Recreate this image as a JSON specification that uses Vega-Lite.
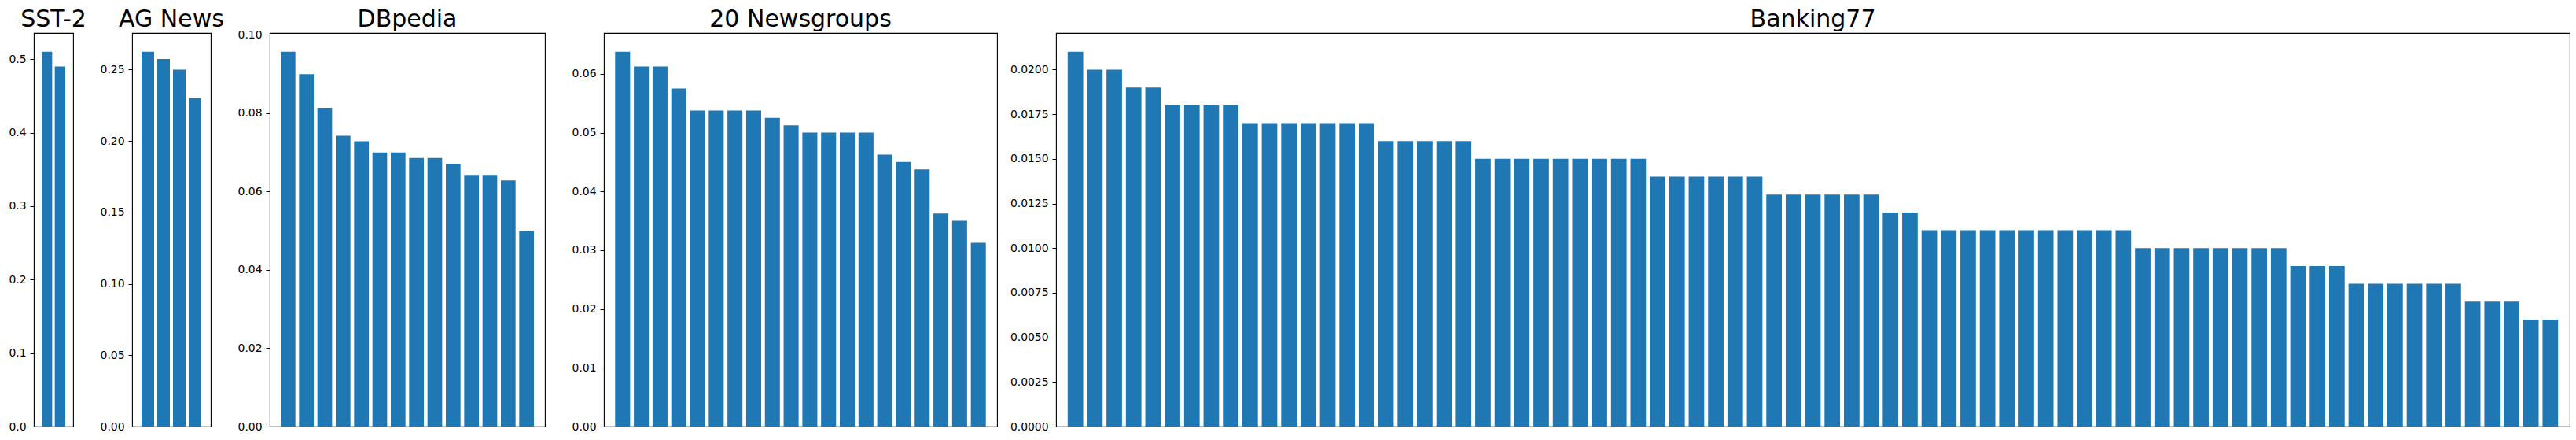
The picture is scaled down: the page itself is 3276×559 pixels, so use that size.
{
  "$schema": "https://vega.github.io/schema/vega-lite/v6.json",
  "background": "white",
  "padding": {"left": 10, "top": 9, "right": 9, "bottom": 10},
  "spacing": 75,
  "bounds": "flush",
  "config": {
    "view": {"stroke": "black", "strokeWidth": 1.1},
    "axis": {"labelFont": "DejaVu Sans", "labelFontSize": 13.9, "labelColor": "black", "tickColor": "black", "tickSize": 5, "tickWidth": 1, "labelPadding": 5, "grid": false, "domain": false, "title": null},
    "title": {"font": "DejaVu Sans", "fontSize": 30, "fontWeight": "normal", "color": "black", "offset": 2, "anchor": "middle", "frame": "group", "baseline": "alphabetic"},
    "bar": {"color": "#1f77b4"}
  },
  "datasets": {
    "sst2": [{"rank": 1, "share": 0.51}, {"rank": 2, "share": 0.49}],
    "ag": [{"rank": 1, "share": 0.2625}, {"rank": 2, "share": 0.2575}, {"rank": 3, "share": 0.25}, {"rank": 4, "share": 0.23}],
    "dbp": [
      {"rank": 1, "share": 0.095714}, {"rank": 2, "share": 0.09}, {"rank": 3, "share": 0.081429}, {"rank": 4, "share": 0.074286},
      {"rank": 5, "share": 0.072857}, {"rank": 6, "share": 0.07}, {"rank": 7, "share": 0.07}, {"rank": 8, "share": 0.068571},
      {"rank": 9, "share": 0.068571}, {"rank": 10, "share": 0.067143}, {"rank": 11, "share": 0.064286}, {"rank": 12, "share": 0.064286},
      {"rank": 13, "share": 0.062857}, {"rank": 14, "share": 0.05}
    ],
    "ng": [
      {"rank": 1, "share": 0.06375}, {"rank": 2, "share": 0.06125}, {"rank": 3, "share": 0.06125}, {"rank": 4, "share": 0.0575},
      {"rank": 5, "share": 0.05375}, {"rank": 6, "share": 0.05375}, {"rank": 7, "share": 0.05375}, {"rank": 8, "share": 0.05375},
      {"rank": 9, "share": 0.0525}, {"rank": 10, "share": 0.05125}, {"rank": 11, "share": 0.05}, {"rank": 12, "share": 0.05},
      {"rank": 13, "share": 0.05}, {"rank": 14, "share": 0.05}, {"rank": 15, "share": 0.04625}, {"rank": 16, "share": 0.045},
      {"rank": 17, "share": 0.04375}, {"rank": 18, "share": 0.03625}, {"rank": 19, "share": 0.035}, {"rank": 20, "share": 0.03125}
    ],
    "bank": [
      {"rank": 1, "share": 0.021},
      {"rank": 2, "share": 0.020}, {"rank": 3, "share": 0.020},
      {"rank": 4, "share": 0.019}, {"rank": 5, "share": 0.019},
      {"rank": 6, "share": 0.018}, {"rank": 7, "share": 0.018}, {"rank": 8, "share": 0.018}, {"rank": 9, "share": 0.018},
      {"rank": 10, "share": 0.017}, {"rank": 11, "share": 0.017}, {"rank": 12, "share": 0.017}, {"rank": 13, "share": 0.017}, {"rank": 14, "share": 0.017}, {"rank": 15, "share": 0.017}, {"rank": 16, "share": 0.017},
      {"rank": 17, "share": 0.016}, {"rank": 18, "share": 0.016}, {"rank": 19, "share": 0.016}, {"rank": 20, "share": 0.016}, {"rank": 21, "share": 0.016},
      {"rank": 22, "share": 0.015}, {"rank": 23, "share": 0.015}, {"rank": 24, "share": 0.015}, {"rank": 25, "share": 0.015}, {"rank": 26, "share": 0.015}, {"rank": 27, "share": 0.015}, {"rank": 28, "share": 0.015}, {"rank": 29, "share": 0.015}, {"rank": 30, "share": 0.015},
      {"rank": 31, "share": 0.014}, {"rank": 32, "share": 0.014}, {"rank": 33, "share": 0.014}, {"rank": 34, "share": 0.014}, {"rank": 35, "share": 0.014}, {"rank": 36, "share": 0.014},
      {"rank": 37, "share": 0.013}, {"rank": 38, "share": 0.013}, {"rank": 39, "share": 0.013}, {"rank": 40, "share": 0.013}, {"rank": 41, "share": 0.013}, {"rank": 42, "share": 0.013},
      {"rank": 43, "share": 0.012}, {"rank": 44, "share": 0.012},
      {"rank": 45, "share": 0.011}, {"rank": 46, "share": 0.011}, {"rank": 47, "share": 0.011}, {"rank": 48, "share": 0.011}, {"rank": 49, "share": 0.011}, {"rank": 50, "share": 0.011}, {"rank": 51, "share": 0.011}, {"rank": 52, "share": 0.011}, {"rank": 53, "share": 0.011}, {"rank": 54, "share": 0.011}, {"rank": 55, "share": 0.011},
      {"rank": 56, "share": 0.010}, {"rank": 57, "share": 0.010}, {"rank": 58, "share": 0.010}, {"rank": 59, "share": 0.010}, {"rank": 60, "share": 0.010}, {"rank": 61, "share": 0.010}, {"rank": 62, "share": 0.010}, {"rank": 63, "share": 0.010},
      {"rank": 64, "share": 0.009}, {"rank": 65, "share": 0.009}, {"rank": 66, "share": 0.009},
      {"rank": 67, "share": 0.008}, {"rank": 68, "share": 0.008}, {"rank": 69, "share": 0.008}, {"rank": 70, "share": 0.008}, {"rank": 71, "share": 0.008}, {"rank": 72, "share": 0.008},
      {"rank": 73, "share": 0.007}, {"rank": 74, "share": 0.007}, {"rank": 75, "share": 0.007},
      {"rank": 76, "share": 0.006}, {"rank": 77, "share": 0.006}
    ]
  },
  "hconcat": [
    {
      "title": "SST-2", "width": 50, "height": 500,
      "data": {"name": "sst2"},
      "mark": {"type": "bar"},
      "encoding": {
        "x": {"field": "rank", "type": "ordinal", "scale": {"paddingInner": 0.2, "paddingOuter": 0.6}, "axis": null},
        "y": {"field": "share", "type": "quantitative", "scale": {"domain": [0, 0.5355], "nice": false}, "axis": {"values": [0, 0.1, 0.2, 0.3, 0.4, 0.5], "format": ".1f"}}
      }
    },
    {
      "title": "AG News", "width": 100, "height": 500,
      "data": {"name": "ag"},
      "mark": {"type": "bar"},
      "encoding": {
        "x": {"field": "rank", "type": "ordinal", "scale": {"paddingInner": 0.2, "paddingOuter": 0.6}, "axis": null},
        "y": {"field": "share", "type": "quantitative", "scale": {"domain": [0, 0.275625], "nice": false}, "axis": {"values": [0, 0.05, 0.1, 0.15, 0.2, 0.25], "format": ".2f"}}
      }
    },
    {
      "title": {"text": "DBpedia", "offset": -2.5}, "width": 350, "height": 500,
      "data": {"name": "dbp"},
      "mark": {"type": "bar"},
      "encoding": {
        "x": {"field": "rank", "type": "ordinal", "scale": {"paddingInner": 0.2, "paddingOuter": 0.6}, "axis": null},
        "y": {"field": "share", "type": "quantitative", "scale": {"domain": [0, 0.1005], "nice": false}, "axis": {"values": [0, 0.02, 0.04, 0.06, 0.08, 0.1], "format": ".2f"}}
      }
    },
    {
      "title": "20 Newsgroups", "width": 500, "height": 500,
      "data": {"name": "ng"},
      "mark": {"type": "bar"},
      "encoding": {
        "x": {"field": "rank", "type": "ordinal", "scale": {"paddingInner": 0.2, "paddingOuter": 0.6}, "axis": null},
        "y": {"field": "share", "type": "quantitative", "scale": {"domain": [0, 0.0669375], "nice": false}, "axis": {"values": [0, 0.01, 0.02, 0.03, 0.04, 0.05, 0.06], "format": ".2f"}}
      }
    },
    {
      "title": "Banking77", "width": 1925, "height": 500,
      "data": {"name": "bank"},
      "mark": {"type": "bar"},
      "encoding": {
        "x": {"field": "rank", "type": "ordinal", "scale": {"paddingInner": 0.2, "paddingOuter": 0.6}, "axis": null},
        "y": {"field": "share", "type": "quantitative", "scale": {"domain": [0, 0.02205], "nice": false}, "axis": {"values": [0, 0.0025, 0.005, 0.0075, 0.01, 0.0125, 0.015, 0.0175, 0.02], "format": ".4f"}}
      }
    }
  ]
}
